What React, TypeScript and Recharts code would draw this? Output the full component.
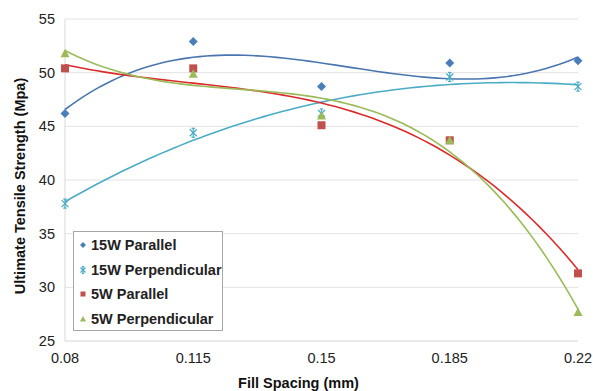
import React from "react";
import {
  ScatterChart,
  Scatter,
  XAxis,
  YAxis,
  CartesianGrid,
} from "recharts";

const fillSpacing = [0.08, 0.115, 0.15, 0.185, 0.22];
const xTicks = [0.08, 0.115, 0.15, 0.185, 0.22];
const yTicks = [25, 30, 35, 40, 45, 50, 55];

const p15Parallel = [46.2, 52.9, 48.7, 50.9, 51.1];
const p15Perpendicular = [37.8, 44.4, 46.2, 49.6, 48.7];
const p5Parallel = [50.4, 50.4, 45.1, 43.7, 31.3];
const p5Perpendicular = [51.8, 49.9, 46.0, 43.7, 27.7];

const FONT = "'Liberation Sans', Arial, sans-serif";

// least squares cubic trendline (like Excel's polynomial order 3)
function cubicFit(xs: number[], ys: number[]) {
  const c = 0.15;
  const s = 0.035;
  const n = 4;
  const A: number[][] = Array.from({ length: n }, () => Array(n + 1).fill(0));
  xs.forEach((x, k) => {
    const t = (x - c) / s;
    for (let i = 0; i < n; i++) {
      for (let j = 0; j < n; j++) A[i][j] += Math.pow(t, i + j);
      A[i][n] += ys[k] * Math.pow(t, i);
    }
  });
  for (let i = 0; i < n; i++) {
    let p = i;
    for (let r = i + 1; r < n; r++) if (Math.abs(A[r][i]) > Math.abs(A[p][i])) p = r;
    [A[i], A[p]] = [A[p], A[i]];
    for (let r = 0; r < n; r++) {
      if (r === i) continue;
      const f = A[r][i] / A[i][i];
      for (let j = i; j <= n; j++) A[r][j] -= f * A[i][j];
    }
  }
  const coef = A.map((row, i) => row[n] / row[i]);
  const out: { x: number; y: number }[] = [];
  const steps = 80;
  for (let i = 0; i <= steps; i++) {
    const x = xs[0] + ((xs[xs.length - 1] - xs[0]) * i) / steps;
    const t = (x - c) / s;
    out.push({ x, y: coef[0] + coef[1] * t + coef[2] * t * t + coef[3] * t * t * t });
  }
  return out;
}

const toPoints = (ys: number[]) => fillSpacing.map((x, i) => ({ x, y: ys[i] }));

const series = [
  { name: "15W Parallel", ys: p15Parallel, color: "#4a7ebb", line: "#4a76b0", marker: "diamond" },
  { name: "15W Perpendicular", ys: p15Perpendicular, color: "#4bacc6", line: "#4bacc6", marker: "star" },
  { name: "5W Parallel", ys: p5Parallel, color: "#c0504d", line: "#dc2a2a", marker: "square" },
  { name: "5W Perpendicular", ys: p5Perpendicular, color: "#9bbb59", line: "#9bbb59", marker: "triangle" },
];

function Marker({ kind, cx, cy, color, r = 4.5 }: any) {
  if (cx == null || cy == null) return null;
  if (kind === "diamond")
    return <polygon points={`${cx},${cy - r} ${cx + r},${cy} ${cx},${cy + r} ${cx - r},${cy}`} fill={color} />;
  if (kind === "square")
    return <rect x={cx - r + 0.5} y={cy - r + 0.5} width={2 * r - 1} height={2 * r - 1} fill={color} />;
  if (kind === "triangle")
    return <polygon points={`${cx},${cy - r} ${cx + r},${cy + r - 0.5} ${cx - r},${cy + r - 0.5}`} fill={color} />;
  const d = r - 1;
  const cap = d * 0.5;
  return (
    <g stroke={color} strokeWidth={1.2}>
      <line x1={cx - d} y1={cy - d} x2={cx + d} y2={cy + d} />
      <line x1={cx - d} y1={cy + d} x2={cx + d} y2={cy - d} />
      <line x1={cx} y1={cy - r} x2={cx} y2={cy + r} />
      <line x1={cx - cap} y1={cy - r} x2={cx + cap} y2={cy - r} />
      <line x1={cx - cap} y1={cy + r} x2={cx + cap} y2={cy + r} />
    </g>
  );
}

const LegendBox = () => (
  <div
    style={{
      position: "absolute",
      left: 73,
      top: 231,
      width: 150,
      height: 100,
      border: "1px solid #a6a6a6",
      background: "#fff",
      fontFamily: FONT,
      fontWeight: "bold",
      fontSize: 14.5,
      color: "#222",
      boxSizing: "border-box",
      padding: "1px 0 0 3px",
      whiteSpace: "nowrap",
    }}
  >
    {series.map((s) => (
      <div key={s.name} style={{ display: "flex", alignItems: "center", height: 24.5 }}>
        <svg width={12} height={12} style={{ marginRight: 2 }}>
          <Marker kind={s.marker} cx={6} cy={6} color={s.color} r={s.marker === "star" ? 3.5 : 3} />
        </svg>
        <span>{s.name}</span>
      </div>
    ))}
  </div>
);

export default function App() {
  return (
    <div style={{ position: "absolute", left: 0, top: 0, width: 593, height: 391, background: "#fff" }}>
      <ScatterChart
        width={593}
        height={391}
        margin={{ top: 19, right: 15, bottom: 0, left: 0 }}
      >
        <CartesianGrid horizontal vertical={false} stroke="#e3e3e3" />
        <XAxis
          type="number"
          dataKey="x"
          domain={[0.08, 0.22]}
          ticks={xTicks}
          height={50}
          tickLine={false}
          tickSize={0}
          tickMargin={12}
          axisLine={{ stroke: "#e3e3e3" }}
          tick={{ fontFamily: FONT, fontSize: 14.5, fill: "#222" }}
          label={{
            value: "Fill Spacing (mm)",
            position: "insideBottom",
            offset: 3,
            dx: -23,
            style: { fontFamily: FONT, fontSize: 14.5, fontWeight: "bold", fill: "#111" },
          }}
        />
        <YAxis
          type="number"
          dataKey="y"
          domain={[25, 55]}
          ticks={yTicks}
          width={65}
          tickLine={false}
          tickSize={0}
          tickMargin={10}
          axisLine={{ stroke: "#d9d9d9" }}
          tick={{ fontFamily: FONT, fontSize: 14.5, fill: "#222" }}
          label={{
            value: "Ultimate Tensile Strength (Mpa)",
            angle: -90,
            position: "insideLeft",
            offset: 20,
            dy: 6,
            style: { textAnchor: "middle", fontFamily: FONT, fontSize: 14.5, fontWeight: "bold", fill: "#111" },
          }}
        />
        {series.map((s) => (
          <Scatter
            key={s.name + "-trend"}
            data={cubicFit(fillSpacing, s.ys)}
            line={{ stroke: s.line, strokeWidth: 1.6 }}
            lineType="joint"
            shape={() => null}
            isAnimationActive={false}
            legendType="none"
          />
        ))}
        {series.map((s) => (
          <Scatter
            key={s.name}
            name={s.name}
            data={toPoints(s.ys)}
            fill={s.color}
            shape={(props: any) => <Marker kind={s.marker} cx={props.cx} cy={props.cy} color={s.color} />}
            isAnimationActive={false}
          />
        ))}
      </ScatterChart>
      <LegendBox />
    </div>
  );
}
